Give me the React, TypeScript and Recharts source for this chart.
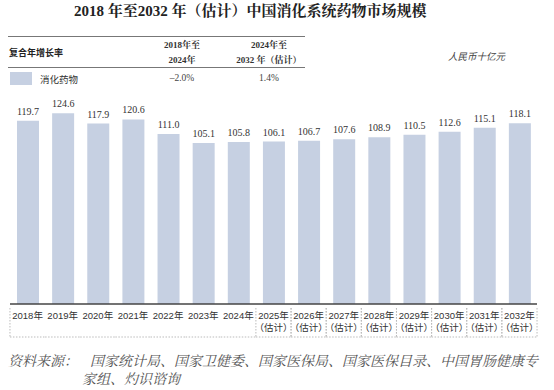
import { BarChart, Bar, XAxis, YAxis, LabelList } from "recharts";

const years = [
  "2018", "2019", "2020", "2021", "2022", "2023", "2024", "2025",
  "2026", "2027", "2028", "2029", "2030", "2031", "2032",
];
const estimated = [false, false, false, false, false, false, false, true, true, true, true, true, true, true, true];
const marketSize = [
  119.7, 124.6, 117.9, 120.6, 111.0, 105.1, 105.8, 106.1,
  106.7, 107.6, 108.9, 110.5, 112.6, 115.1, 118.1,
];
const cagrPeriods = ["2018年至|2024年", "2024年至|2032 年（估计）"];
const cagrValues = ["–2.0%", "1.4%"];

const data = years.map((y, i) => ({
  year: y,
  est: estimated[i],
  value: marketSize[i],
}));

const BAR_COLOR = "#c6d0e2";
const serif = "'Liberation Serif', 'Noto Serif CJK SC', 'Noto Sans CJK SC', serif";
const sans = "'Liberation Sans', 'Noto Sans CJK SC', sans-serif";

const YearTick = ({ x, y, payload, index }: any) => {
  const half = 17.6;
  const est = data[index]?.est;
  const top = y - 4;
  const bottom = y + 25;
  const dash = "1.5 1.5";
  return (
    <g>
      <line x1={x - half} x2={x + half} y1={bottom} y2={bottom} stroke="#bbb" strokeDasharray={dash} />
      {(index === 0 || est) && (
        <line x1={x - half} x2={x - half} y1={top} y2={bottom} stroke="#bbb" strokeDasharray={dash} />
      )}
      {(index === data.length - 1 || est) && (
        <line x1={x + half} x2={x + half} y1={top} y2={bottom} stroke="#bbb" strokeDasharray={dash} />
      )}
      <text x={x} y={y + 7} textAnchor="middle" fontSize={9.5} fill="#333" fontFamily={sans}>
        {payload.value}年
      </text>
      {est && (
        <text x={x} y={y + 19} textAnchor="middle" fontSize={9.5} fill="#333" fontFamily={sans}>
          （估计）
        </text>
      )}
    </g>
  );
};

const App = () => {
  return (
    <div style={{ position: "absolute", left: 0, top: 0, width: 554, height: 390, background: "#fff", fontFamily: serif }}>
      <div style={{ position: "absolute", left: 74, top: -1, whiteSpace: "nowrap", fontSize: 15, fontWeight: "bold", color: "#222" }}>
        2018 年至2032 年（估计）中国消化系统药物市场规模
      </div>

      {/* CAGR table */}
      <div style={{ position: "absolute", left: 8, top: 36, width: 297, borderTop: "1.5px solid #777" }} />
      <div style={{ position: "absolute", left: 8, top: 67, width: 297, borderTop: "1px solid #777" }} />
      <div style={{ position: "absolute", left: 9, top: 46, fontSize: 9, fontWeight: "bold", color: "#222", fontFamily: sans }}>
        复合年增长率
      </div>
      {cagrPeriods.map((p, i) => (
        <div
          key={p}
          style={{ position: "absolute", left: i === 0 ? 139.5 : 226.5, width: 85, top: 38, textAlign: "center", fontSize: 9, fontWeight: "bold", color: "#333", lineHeight: "15px" }}
        >
          {p.split("|").map((s) => (
            <div key={s}>{s}</div>
          ))}
        </div>
      ))}
      <div style={{ position: "absolute", left: 10, top: 72, width: 22, height: 13, background: BAR_COLOR }} />
      <div style={{ position: "absolute", left: 40, top: 72, fontSize: 9.5, color: "#333", fontFamily: sans }}>消化药物</div>
      {cagrValues.map((v, i) => (
        <div
          key={v}
          style={{ position: "absolute", left: i === 0 ? 139.5 : 226.5, width: 85, top: 73, textAlign: "center", fontSize: 9.5, color: "#444" }}
        >
          {v}
        </div>
      ))}
      <div style={{ position: "absolute", left: 448, top: 49, fontSize: 9.5, fontStyle: "italic", color: "#444", fontFamily: sans }}>
        人民币十亿元
      </div>

      <div style={{ position: "absolute", left: 0, top: 0 }}>
        <BarChart
          width={554}
          height={390}
          data={data}
          margin={{ top: 105, right: 17, bottom: 56, left: 10 }}
          barSize={22}
        >
          <XAxis
            dataKey="year"
            height={30}
            interval={0}
            tickLine={false}
            axisLine={{ stroke: "#444", strokeWidth: 1.5 }}
            tick={<YearTick />}
          />
          <YAxis hide domain={[0, 130]} />
          <Bar dataKey="value" fill={BAR_COLOR} isAnimationActive={false}>
            <LabelList
              dataKey="value"
              position="top"
              offset={6}
              formatter={(v: any) => Number(v).toFixed(1)}
              style={{ fontSize: 10, fill: "#333", fontFamily: serif }}
            />
          </Bar>
        </BarChart>
      </div>

      <div style={{ position: "absolute", left: 8, top: 353, fontSize: 14, fontStyle: "italic", color: "#555", lineHeight: "18px", whiteSpace: "nowrap" }}>
        <span style={{ display: "inline-block", width: 82 }}>资料来源：</span>
        <span>国家统计局、国家卫健委、国家医保局、国家医保目录、中国胃肠健康专</span>
        <div style={{ paddingLeft: 74 }}>家组、灼识谘询</div>
      </div>
    </div>
  );
};

export default App;
